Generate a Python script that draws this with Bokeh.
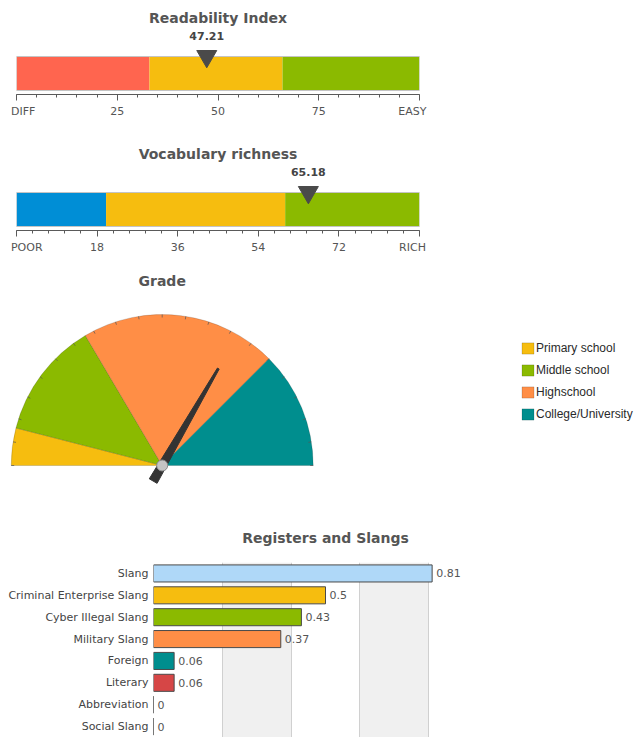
import math
from bokeh.plotting import figure
from bokeh.models import (Range1d, FactorRange, FixedTicker, Legend, LegendItem,
                          ColumnDataSource, Grid)
from bokeh.embed import file_html
from bokeh.resources import INLINE
from bokeh.core.properties import value

# ---------------- data ----------------
readability_value = 47.21
readability_bands = [0, 33, 66, 100]
readability_colors = ["#ff654f", "#f6bd0f", "#8bba00"]
readability_ticks = [0, 25, 50, 75, 100]
readability_tick_labels = ["DIFF", "25", "50", "75", "EASY"]

vocab_value = 65.18
vocab_bands = [0, 20, 60, 90]
vocab_colors = ["#008ed6", "#f6bd0f", "#8bba00"]
vocab_ticks = [0, 18, 36, 54, 72, 90]
vocab_tick_labels = ["POOR", "18", "36", "54", "72", "RICH"]

grade_value = 66.7
grade_bands = [0, 8, 33, 75, 100]
grade_labels = ["Primary school", "Middle school", "Highschool", "College/University"]
grade_colors = ["#f6bd0f", "#8bba00", "#ff8e46", "#008e8e"]

register_categories = ["Slang", "Criminal Enterprise Slang", "Cyber Illegal Slang",
                       "Military Slang", "Foreign", "Literary", "Abbreviation", "Social Slang"]
register_values = [0.81, 0.5, 0.43, 0.37, 0.06, 0.06, 0, 0]
register_colors = ["#afd8f8", "#f6bd0f", "#8bba00", "#ff8e46", "#008e8e", "#d64646",
                   "#8e468e", "#588526"]
register_grid_ticks = [0, 0.2, 0.4, 0.6, 0.8, 1.0]

FONT = "DejaVu Sans"
VERDANA = value(FONT)
TITLE_COLOR = "#555555"
TITLE_SIZE = "14px"
NBSP = "\u00a0"


def linear_gauge(title, val, bands, colors, ticks, tick_labels, n_minor,
                 fig_top, fig_bottom, bar_top):
    lo, hi = bands[0], bands[-1]
    bar_bottom = bar_top + 34
    axis_y = bar_top + 38
    p = figure(width=440, height=fig_bottom - fig_top,
               x_range=Range1d(lo, hi), y_range=Range1d(axis_y, fig_top),
               min_border_left=16, min_border_right=21, min_border_top=0,
               min_border_bottom=fig_bottom - axis_y,
               y_axis_location=None, toolbar_location=None, output_backend="svg")
    p.outline_line_color = None
    p.grid.visible = False
    # coloured bands
    p.quad(left=bands[:-1], right=bands[1:], top=bar_top, bottom=bar_bottom,
           fill_color=colors, line_color=None)
    p.quad(left=lo, right=hi, top=bar_top, bottom=bar_bottom,
           fill_color=None, line_color="#c4c4c4", line_width=1)
    # marker
    tri = 20 * math.sqrt(3) / 2
    p.scatter(x=[val], y=[bar_top - 6 + tri / 3], marker="inverted_triangle", size=20,
              fill_color="#4a4a4a", line_color="#4a4a4a")
    p.text(x=[val], y=[bar_top - 21], text=[f"{val:.2f}"], text_align="center",
           text_baseline="middle", text_font=VERDANA, text_font_size="11px",
           text_font_style="bold", text_color="#444444")
    p.text(x=[(lo + hi) / 2], y=[bar_top - 39], text=[title], text_align="center",
           text_baseline="middle", text_font=VERDANA, text_font_size=TITLE_SIZE,
           text_font_style="bold", text_color=TITLE_COLOR)
    # axis
    step = (ticks[1] - ticks[0]) / (n_minor + 1)
    minor = [lo + i * step for i in range(int(round((hi - lo) / step)) + 1)]
    ax = p.xaxis[0]
    ax.ticker = FixedTicker(ticks=ticks, minor_ticks=minor)
    overrides = {t: lab for t, lab in zip(ticks, tick_labels)}
    # end labels sit inside the bar's span, as in the original
    overrides[ticks[0]] = NBSP * 3 + tick_labels[0]
    overrides[ticks[-1]] = tick_labels[-1] + NBSP * 4
    ax.major_label_overrides = overrides
    ax.axis_line_color = "#5a5a5a"
    ax.major_tick_line_color = "#5a5a5a"
    ax.minor_tick_line_color = "#5a5a5a"
    ax.major_tick_out = 6
    ax.major_tick_in = 0
    ax.minor_tick_out = 3
    ax.minor_tick_in = 0
    ax.major_label_standoff = 4
    ax.major_label_text_font = FONT
    ax.major_label_text_font_size = "11px"
    ax.major_label_text_color = "#555555"
    return p


p1 = linear_gauge("Readability Index", readability_value, readability_bands,
                  readability_colors, readability_ticks, readability_tick_labels, 4,
                  fig_top=0, fig_bottom=130, bar_top=56)
p2 = linear_gauge("Vocabulary richness", vocab_value, vocab_bands, vocab_colors,
                  vocab_ticks, vocab_tick_labels, 4,
                  fig_top=130, fig_bottom=265, bar_top=192)

# ---------------- Grade gauge ----------------
R = 151
g = figure(width=640, height=240, x_range=Range1d(-161.7, 478.3), y_range=Range1d(-40, 200),
           min_border=0, x_axis_location=None, y_axis_location=None,
           toolbar_location=None, output_backend="svg")
g.outline_line_color = None
g.grid.visible = False


def ang(v):
    return math.pi * (1 - v / 100.0)


wsrc = ColumnDataSource(dict(
    start=[ang(b) for b in grade_bands[1:]],
    end=[ang(b) for b in grade_bands[:-1]],
    color=grade_colors,
    label=grade_labels,
))
wr = g.wedge(x=0, y=0, radius=R, start_angle="start", end_angle="end", direction="anticlock",
             fill_color="color", line_color="#000000", line_alpha=0.15, line_width=1,
             source=wsrc)

tick_vals = list(range(0, 101, 5))
g.segment(x0=[(R - 3) * math.cos(ang(v)) for v in tick_vals],
          y0=[(R - 3) * math.sin(ang(v)) for v in tick_vals],
          x1=[R * math.cos(ang(v)) for v in tick_vals],
          y1=[R * math.sin(ang(v)) for v in tick_vals],
          line_color="#555555", line_alpha=0.7, line_width=1)

th = ang(grade_value)
ux, uy = math.cos(th), math.sin(th)
qx, qy = -uy, ux
shape = [(-18, -4.5), (112, -1.0), (112, 1.0), (-18, 4.5)]
g.patch([a * ux + w * qx for a, w in shape], [a * uy + w * qy for a, w in shape],
        fill_color="#333333", line_color="#333333")
g.circle(x=[0], y=[0], radius=5.5, fill_color="#c4c4c4", line_color="#8a8a8a", line_width=1)

g.text(x=[0], y=[185], text=["Grade"], text_align="center", text_baseline="middle",
       text_font=VERDANA, text_font_size=TITLE_SIZE, text_font_style="bold",
       text_color=TITLE_COLOR)

legend = Legend(items=[LegendItem(label=lab, renderers=[wr], index=i)
                       for i, lab in enumerate(grade_labels)],
                location=(520, 84), glyph_width=15, glyph_height=14, label_height=14,
                label_width=10, spacing=8, padding=0, margin=0, label_standoff=1,
                border_line_alpha=0, background_fill_alpha=0,
                label_text_font="Liberation Sans", label_text_font_size="12px",
                label_text_color="#2a2a2a")
g.add_layout(legend)

# ---------------- Registers and Slangs ----------------
b = figure(width=500, height=232,
           y_range=FactorRange(factors=list(reversed(register_categories))),
           x_range=Range1d(0, 1), min_border_left=153, min_border_right=3,
           min_border_top=57, min_border_bottom=0, x_axis_location=None,
           toolbar_location=None, output_backend="svg", title="Registers and Slangs")
b.outline_line_color = None
b.grid.visible = False
b.add_layout(Grid(dimension=0, ticker=FixedTicker(ticks=register_grid_ticks),
                  grid_line_color="#d0d0d0", band_fill_color="#f0f0f0", band_fill_alpha=1.0))
b.title.align = "center"
b.title.text_font = FONT
b.title.text_font_size = TITLE_SIZE
b.title.text_font_style = "bold"
b.title.text_color = TITLE_COLOR
b.title.standoff = 34

bsrc = ColumnDataSource(dict(cat=register_categories, val=register_values,
                             color=register_colors,
                             label=[f"{v:g}" for v in register_values]))
b.hbar(y="cat", right="val", left=0, height=0.78, fill_color="color",
       line_color="#4a4a4a", line_width=1, source=bsrc)
b.text(x="val", y="cat", text="label", x_offset=4, text_align="left", text_baseline="middle",
       text_font=VERDANA, text_font_size="11px", text_color="#555555", source=bsrc)
ya = b.yaxis[0]
ya.axis_line_color = None
ya.major_tick_line_color = None
ya.minor_tick_line_color = None
ya.major_tick_out = 0
ya.major_tick_in = 0
ya.major_label_standoff = 5
ya.major_label_text_font = FONT
ya.major_label_text_font_size = "11px"
ya.major_label_text_color = "#444444"

open("out.html", "w").write(file_html([p1, p2, g, b], INLINE))
